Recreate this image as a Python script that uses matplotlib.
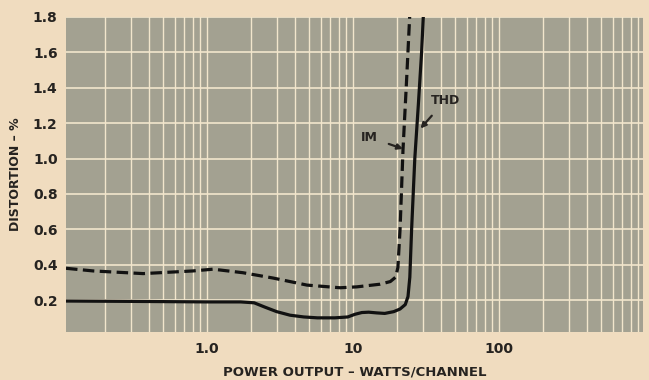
import numpy as np
import matplotlib
matplotlib.use("Agg")
from matplotlib import pyplot as plt

# distortion vs power output
thd_watts = [0.108, 0.3, 1.0, 1.7, 2.1, 2.5, 3.0, 3.7, 4.6, 5.7, 7.5, 9.2, 10.3, 11.5,
             12.8, 14.5, 16.5, 19.0, 21.0, 22.8, 23.8, 24.5, 25.2, 26.5, 28.0, 29.5, 30.5]
thd_pct = [0.195, 0.193, 0.19, 0.19, 0.185, 0.16, 0.135, 0.115, 0.105, 0.1, 0.1, 0.105,
           0.12, 0.13, 0.132, 0.128, 0.125, 0.135, 0.15, 0.175, 0.22, 0.33, 0.6, 1.0,
           1.3, 1.6, 1.85]

im_watts = [0.108, 0.166, 0.365, 0.8, 1.1, 1.76, 2.83, 4.84, 8.15, 10.6, 15.3, 18.0,
            19.6, 20.3, 21.0, 22.0, 23.3, 24.6]
im_pct = [0.38, 0.365, 0.35, 0.365, 0.375, 0.355, 0.325, 0.285, 0.27, 0.275, 0.29,
          0.305, 0.33, 0.385, 0.6, 1.05, 1.45, 1.85]

y_ticks = [0.2, 0.4, 0.6, 0.8, 1.0, 1.2, 1.4, 1.6, 1.8]
x_ticks = [1.0, 10, 100]
x_tick_labels = ["1.0", "10", "100"]

paper = "#f0dcbf"
panel = "#a3a191"
rule = "#f2e6cc"
ink = "#262320"

fig = plt.figure(figsize=(6.49, 3.80), dpi=100, facecolor=paper)
ax = fig.add_axes([66 / 649, 1 - 332 / 380, 577 / 649, 315 / 380])
ax.set_facecolor(panel)

ax.set_xscale("log")
ax.set_xlim(0.108, 970)
ax.set_ylim(0.02, 1.8)

ax.set_xticks(x_ticks, x_tick_labels)
ax.xaxis.set_minor_locator(matplotlib.ticker.LogLocator(base=10, subs=np.arange(2, 10)))
ax.xaxis.set_minor_formatter(matplotlib.ticker.NullFormatter())
ax.set_yticks(y_ticks, [f"{v:.1f}" for v in y_ticks])

ax.grid(True, which="both", axis="x", color=rule, linewidth=1.0)
ax.grid(True, which="major", axis="y", color=rule, linewidth=1.2)
ax.set_axisbelow(True)

ax.tick_params(which="both", length=0, colors=ink, labelsize=10)
ax.tick_params(axis="x", pad=7)
ax.tick_params(axis="y", pad=6)
for lab in ax.get_xticklabels() + ax.get_yticklabels():
    lab.set_fontweight("bold")
for s in ax.spines.values():
    s.set_visible(False)

ax.plot(thd_watts, thd_pct, color="#111111", lw=2.3, solid_capstyle="butt")
ax.plot(im_watts, im_pct, color="#111111", lw=2.3, dashes=(3.6, 1.7))

ax.annotate("THD", xy=(29.0, 1.17), xytext=(43.0, 1.33), ha="center", va="center",
            fontsize=9, fontweight="bold", color=ink,
            arrowprops=dict(arrowstyle="-|>", color=ink, lw=1.6, mutation_scale=8,
                            shrinkA=6, shrinkB=0))
ax.annotate("IM", xy=(22.0, 1.055), xytext=(13.0, 1.12), ha="center", va="center",
            fontsize=9, fontweight="bold", color=ink,
            arrowprops=dict(arrowstyle="-|>", color=ink, lw=1.6, mutation_scale=8,
                            shrinkA=6, shrinkB=0))

ax.set_xlabel("POWER OUTPUT \u2013 WATTS/CHANNEL", fontsize=9.5, fontweight="bold",
              color=ink, labelpad=7)
ax.set_ylabel("DISTORTION \u2013 %", fontsize=9, fontweight="bold", color=ink, labelpad=8)

fig.savefig("out.png", dpi=100, facecolor=paper)
